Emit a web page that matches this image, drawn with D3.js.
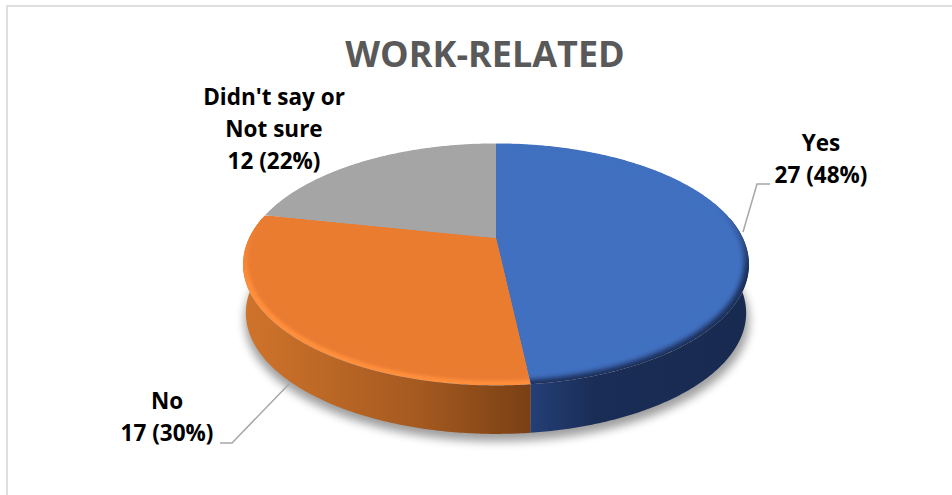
<!DOCTYPE html>
<html>
<head>
<meta charset="utf-8">
<script src="https://cdn.jsdelivr.net/npm/d3@7/dist/d3.min.js"></script>
<style>
  html, body { margin: 0; padding: 0; background: #fff; }
  svg { display: block; }
  text { font-family: "Open Sans", Lato, sans-serif; }
</style>
</head>
<body>
<script>
// Survey responses for the work-related question
const categories = ["Yes", "No", "Didn't say or Not sure"];
const counts = [27, 17, 12];
const percents = [48, 30, 22];
const faceColors = ["#4170c0", "#ea7c30", "#a5a5a5"];
const rimColors = ["#1b2f5a", "#ff8f3c", "#a5a5a5"];
const faceBlurs = ["softFaceWide", "softFace", "softFace"];
const labelLines = [["Yes", "27 (48%)"], ["No", "17 (30%)"], ["Didn't say or", "Not sure", "12 (22%)"]];
const titleText = "WORK-RELATED";

const width = 952, height = 495;
const hub = [496, 238];
const svg = d3.select("body").append("svg").attr("width", width).attr("height", height);
const defs = svg.append("defs");

// Tilted-disc projection: the rim stays an ellipse while the hub sits above its middle
const tilt = 0.2017;
function disc(cx, cy, R, A) {
  return a => {
    const u = Math.sin(a), v = -Math.cos(a), w = 1 - tilt * v;
    return [cx + R * u / w, cy + A * v / w];
  };
}
const outerDisc = disc(496, 240, 247.8, 116.1);
const faceDisc = disc(496, 238, 243, 114);
const coreDisc = disc(496, 238, 232, 103);
const baseDisc = disc(496, 288.6, 245, 116);
const groundDisc = disc(497, 296, 247, 116);

const line = d3.line();
const arcPoints = (proj, a0, a1) => {
  const n = Math.max(2, Math.ceil(Math.abs(a1 - a0) / 0.01));
  return d3.range(n + 1).map(i => proj(a0 + (a1 - a0) * i / n));
};

const slices = d3.pie().sort(null).value(d => d)(counts);

function blur(id, sd) {
  defs.append("filter").attr("id", id)
    .attr("x", "-10%").attr("y", "-15%").attr("width", "120%").attr("height", "130%")
    .append("feGaussianBlur").attr("stdDeviation", sd);
}
blur("shadow", 5);
blur("softFace", 1.5);
blur("softFaceWide", 2.6);

function gradient(id, x1, y1, x2, y2, stops) {
  const g = defs.append("linearGradient").attr("id", id).attr("gradientUnits", "userSpaceOnUse")
    .attr("x1", x1).attr("y1", y1).attr("x2", x2).attr("y2", y2);
  stops.forEach(([o, c]) => g.append("stop").attr("offset", o).attr("stop-color", c));
}

// Wall shading runs left to right; rim shading fades in towards the front of the disc
gradient("wall0", 530, 0, 745, 0, [[0, "#243f78"], [0.3, "#1a2d56"], [1, "#182a50"]]);
gradient("wall1", 247, 0, 530, 0, [[0, "#cf732b"], [0.6, "#a55a20"], [1, "#7a4014"]]);
gradient("wall2", 247, 0, 530, 0, [[0, "#8a8a8a"], [1, "#7a7a7a"]]);
gradient("rim0", 0, 205, 0, 268, [[0, faceColors[0]], [1, rimColors[0]]]);
gradient("rim1", 0, 225, 0, 290, [[0, faceColors[1]], [1, rimColors[1]]]);
gradient("rim2", 0, 0, 0, 1, [[0, faceColors[2]], [1, rimColors[2]]]);

// Chart frame: only its top and left edges fall inside the view
const frameLine = [[952, 6], [7, 6], [7, 495]];
svg.append("path").attr("d", line(frameLine)).attr("fill", "none")
  .attr("stroke", "#dedede").attr("stroke-width", 2);

// Soft shadow on the ground below the disc
svg.append("path")
  .attr("d", line(arcPoints(groundDisc, 0, 2 * Math.PI)) + "Z")
  .attr("fill", "#000").attr("opacity", 0.38).attr("filter", "url(#shadow)");

// Side wall: only the part of each slice facing the viewer, between the rim and the base
const frontFrom = Math.PI / 2 - 0.2, frontTo = 3 * Math.PI / 2 + 0.2;
slices.forEach((s, i) => {
  const a0 = Math.max(s.startAngle, frontFrom), a1 = Math.min(s.endAngle, frontTo);
  if (a1 <= a0) return;
  const wall = arcPoints(outerDisc, a0, a1).concat(arcPoints(baseDisc, a1, a0));
  svg.append("path").attr("d", line(wall) + "Z").attr("fill", `url(#wall${i})`);
});

// Top faces: a bevelled rim with a softly blended face, clipped to each slice
slices.forEach((s, i) => {
  const sector = (proj, a0, a1) => line([hub].concat(arcPoints(proj, a0, a1))) + "Z";
  const d = sector(outerDisc, s.startAngle, s.endAngle);
  defs.append("clipPath").attr("id", "slice" + i).append("path").attr("d", d);
  const g = svg.append("g").attr("clip-path", `url(#slice${i})`);
  g.append("path").attr("d", d).attr("fill", `url(#rim${i})`);
  g.append("path").attr("d", sector(faceDisc, s.startAngle - 0.1, s.endAngle + 0.1))
    .attr("fill", faceColors[i]).attr("filter", `url(#${faceBlurs[i]})`);
  g.append("path").attr("d", sector(coreDisc, s.startAngle - 0.05, s.endAngle + 0.05))
    .attr("fill", faceColors[i]);
});

// Leader lines from the disc to the two outer labels
const leaders = [
  [[743, 232], [757, 184], [770, 184]],
  [[290, 383], [232, 443], [220, 443]]
];
svg.selectAll("path.leader").data(leaders).join("path").attr("class", "leader")
  .attr("d", d => line(d)).attr("fill", "none").attr("stroke", "#a6a6a6").attr("stroke-width", 1.5);

// Title and labels
svg.append("text").attr("x", 485).attr("y", 67).attr("text-anchor", "middle")
  .attr("font-size", 36).attr("font-weight", 700).attr("fill", "#595959").text(titleText);

const labelAnchors = [[821, 151], [167, 409], [274, 105]];
labelLines.forEach((lines, i) => {
  const t = svg.append("text").attr("text-anchor", "middle")
    .attr("font-size", 22.5).attr("font-weight", 700).attr("fill", "#000");
  lines.forEach((l, j) => t.append("tspan")
    .attr("x", labelAnchors[i][0]).attr("y", labelAnchors[i][1] + j * 32).text(l));
});
</script>
</body>
</html>
